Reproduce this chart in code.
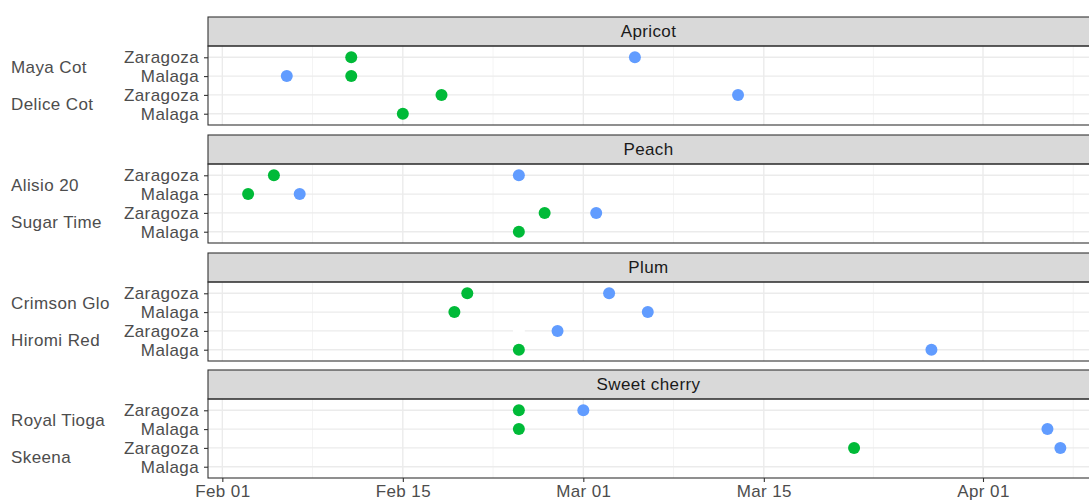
<!DOCTYPE html>
<html lang="en">
  <head>
    <meta charset="UTF-8" />
    <title>Flowering dates by site</title>
    <script src="https://d3js.org/d3.v7.min.js"></script>
    <style>
      body { margin: 0; background: #fff; }
      text { font-family: "Liberation Sans", Arial, sans-serif; letter-spacing: 0.4px; }
      .tick-label { fill: #4d4d4d; font-size: 17px; }
      .strip-label { fill: #1a1a1a; font-size: 17px; }
    </style>
  </head>
  <body>
    <div id="chart-container"></div>
    <script>
      // data
      const fruits = ['Apricot', 'Peach', 'Plum', 'Sweet cherry'];
      const varieties = [
        ['Maya Cot', 'Delice Cot'],
        ['Alisio 20', 'Sugar Time'],
        ['Crimson Glo', 'Hiromi Red'],
        ['Royal Tioga', 'Skeena'],
      ];
      const sites = ['Zaragoza', 'Malaga'];

      // [fruit, variety, site, date]
      const greenPoints = [
        ['Apricot', 'Maya Cot', 'Zaragoza', '2021-02-11'],
        ['Apricot', 'Maya Cot', 'Malaga', '2021-02-11'],
        ['Apricot', 'Delice Cot', 'Zaragoza', '2021-02-18'],
        ['Apricot', 'Delice Cot', 'Malaga', '2021-02-15'],
        ['Peach', 'Alisio 20', 'Zaragoza', '2021-02-05'],
        ['Peach', 'Alisio 20', 'Malaga', '2021-02-03'],
        ['Peach', 'Sugar Time', 'Zaragoza', '2021-02-26'],
        ['Peach', 'Sugar Time', 'Malaga', '2021-02-24'],
        ['Plum', 'Crimson Glo', 'Zaragoza', '2021-02-20'],
        ['Plum', 'Crimson Glo', 'Malaga', '2021-02-19'],
        ['Plum', 'Hiromi Red', 'Malaga', '2021-02-24'],
        ['Sweet cherry', 'Royal Tioga', 'Zaragoza', '2021-02-24'],
        ['Sweet cherry', 'Royal Tioga', 'Malaga', '2021-02-24'],
        ['Sweet cherry', 'Skeena', 'Zaragoza', '2021-03-22'],
      ];
      const bluePoints = [
        ['Apricot', 'Maya Cot', 'Zaragoza', '2021-03-05'],
        ['Apricot', 'Maya Cot', 'Malaga', '2021-02-06'],
        ['Apricot', 'Delice Cot', 'Zaragoza', '2021-03-13'],
        ['Peach', 'Alisio 20', 'Zaragoza', '2021-02-24'],
        ['Peach', 'Alisio 20', 'Malaga', '2021-02-07'],
        ['Peach', 'Sugar Time', 'Zaragoza', '2021-03-02'],
        ['Plum', 'Crimson Glo', 'Zaragoza', '2021-03-03'],
        ['Plum', 'Crimson Glo', 'Malaga', '2021-03-06'],
        ['Plum', 'Hiromi Red', 'Zaragoza', '2021-02-27'],
        ['Plum', 'Hiromi Red', 'Malaga', '2021-03-28'],
        ['Sweet cherry', 'Royal Tioga', 'Zaragoza', '2021-03-01'],
        ['Sweet cherry', 'Royal Tioga', 'Malaga', '2021-04-06'],
        ['Sweet cherry', 'Skeena', 'Zaragoza', '2021-04-07'],
      ];
      const whitePoints = [
        ['Plum', 'Hiromi Red', 'Zaragoza', '2021-02-24'],
      ];
      const majorTicks = ['2021-02-01', '2021-02-15', '2021-03-01', '2021-03-15', '2021-04-01'];
      const minorTicks = ['2021-02-08', '2021-02-22', '2021-03-08', '2021-03-23T12:00', '2021-04-08'];

      const svgWidth = 1089;
      const svgHeight = 501;
      const panelLeft = 208;
      const panelRight = 1090;
      const stripH = 29;
      const panelH = 79;
      const panelTops = [17, 135, 253, 370]; // strip tops

      const parse = (s) => new Date(s + (s.length > 10 ? 'Z' : 'T00:00Z'));

      const svg = d3
        .select('#chart-container')
        .append('svg')
        .attr('width', svgWidth)
        .attr('height', svgHeight);

      const x = d3
        .scaleUtc()
        .domain([parse('2021-01-30T21:20'), parse('2021-04-09T05:20')])
        .range([panelLeft, 1089]);

      const series = [
        { pts: greenPoints, color: '#00BA38' },
        { pts: bluePoints, color: '#619CFF' },
        { pts: whitePoints, color: '#ffffff' },
      ];

      fruits.forEach(function (fruit, i) {
        const top = panelTops[i];
        const pTop = top + stripH;
        const rows = [];
        varieties[i].forEach((v) => sites.forEach((s) => rows.push(v + '|' + s)));
        const y = d3
          .scalePoint()
          .domain(rows)
          .range([pTop, pTop + panelH])
          .padding(0.6);

        const g = svg.append('g');

        // minor grid
        g.selectAll('.minor')
          .data(minorTicks)
          .enter()
          .append('line')
          .attr('x1', (d) => x(parse(d)))
          .attr('x2', (d) => x(parse(d)))
          .attr('y1', pTop)
          .attr('y2', pTop + panelH)
          .attr('stroke', '#f4f4f4')
          .attr('stroke-width', 1);

        // major grid
        g.selectAll('.major')
          .data(majorTicks)
          .enter()
          .append('line')
          .attr('x1', (d) => x(parse(d)))
          .attr('x2', (d) => x(parse(d)))
          .attr('y1', pTop)
          .attr('y2', pTop + panelH)
          .attr('stroke', '#ebebeb')
          .attr('stroke-width', 1.4);

        g.selectAll('.hgrid')
          .data(rows)
          .enter()
          .append('line')
          .attr('x1', panelLeft)
          .attr('x2', panelRight)
          .attr('y1', (d) => y(d))
          .attr('y2', (d) => y(d))
          .attr('stroke', '#ebebeb')
          .attr('stroke-width', 1.4);

        // strip
        g.append('rect')
          .attr('x', panelLeft)
          .attr('y', top)
          .attr('width', panelRight - panelLeft)
          .attr('height', stripH)
          .attr('fill', '#d9d9d9')
          .attr('stroke', '#333333')
          .attr('stroke-width', 1.1);
        g.append('text')
          .attr('class', 'strip-label')
          .attr('x', (panelLeft + 1089) / 2)
          .attr('y', top + stripH / 2)
          .attr('dy', '0.35em')
          .attr('text-anchor', 'middle')
          .text(fruit);

        // points
        series.forEach(function (s) {
          g.selectAll(null)
            .data(s.pts.filter((p) => p[0] === fruit))
            .enter()
            .append('circle')
            .attr('cx', (p) => x(parse(p[3])))
            .attr('cy', (p) => y(p[1] + '|' + p[2]))
            .attr('r', 6)
            .attr('fill', s.color);
        });

        // panel border
        g.append('rect')
          .attr('x', panelLeft)
          .attr('y', pTop)
          .attr('width', panelRight - panelLeft)
          .attr('height', panelH)
          .attr('fill', 'none')
          .attr('stroke', '#333333')
          .attr('stroke-width', 1.1);

        // y axis (site labels)
        const yAxis = d3
          .axisLeft(y)
          .tickSize(4)
          .tickPadding(5)
          .tickFormat((d) => d.split('|')[1]);
        const ya = g.append('g').attr('transform', `translate(${panelLeft},0)`).call(yAxis);
        ya.select('.domain').remove();
        ya.selectAll('line').attr('stroke', '#333333').attr('stroke-width', 1.1);
        ya.selectAll('text').attr('class', 'tick-label').attr('font-family', null).attr('font-size', null);

        // variety labels
        varieties[i].forEach(function (v) {
          const mid = (y(v + '|' + sites[0]) + y(v + '|' + sites[1])) / 2;
          g.append('text')
            .attr('class', 'tick-label')
            .attr('x', 11)
            .attr('y', mid)
            .attr('dy', '0.35em')
            .text(v);
        });

        if (i === fruits.length - 1) {
          const xAxis = d3
            .axisBottom(x)
            .tickValues(majorTicks.map(parse))
            .tickSize(4)
            .tickPadding(3)
            .tickFormat(d3.utcFormat('%b %d'));
          const xa = g.append('g').attr('transform', `translate(0,${pTop + panelH})`).call(xAxis);
          xa.select('.domain').remove();
          xa.selectAll('line').attr('stroke', '#333333').attr('stroke-width', 1.1);
          xa.selectAll('text').attr('class', 'tick-label').attr('font-family', null).attr('font-size', null);
        }
      });
    </script>
  </body>
</html>
